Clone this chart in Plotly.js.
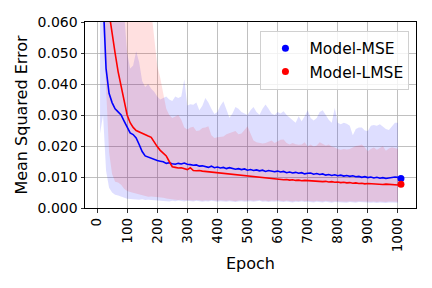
<!DOCTYPE html>
<html>
<head>
<meta charset="utf-8">
<script src="https://cdn.plot.ly/plotly-3.0.1.min.js"></script>
<style>
html, body { margin: 0; padding: 0; background: #fff; }
#chart { width: 432px; height: 288px; }
</style>
</head>
<body>
<div id="chart"></div>
<script>
// Epochs 10, 20, ..., 1000
const epochs = Array.from({length: 100}, (_, i) => (i + 1) * 10);

const blueMean = [
  0.100, 0.068, 0.045, 0.037, 0.034, 0.032, 0.031, 0.030, 0.028, 0.026,
  0.0242, 0.0237, 0.0226, 0.0205, 0.0182, 0.0168, 0.0164, 0.0160, 0.0156, 0.0153,
  0.0151, 0.0149, 0.0144, 0.0146, 0.0143, 0.0141, 0.0144, 0.0142, 0.0145, 0.0141,
  0.0140, 0.0138, 0.0139, 0.0135, 0.0136, 0.0134, 0.0131, 0.0135, 0.0130, 0.0132,
  0.0129, 0.0131, 0.0127, 0.0130, 0.0128, 0.0125, 0.0127, 0.0124, 0.0126, 0.0122,
  0.0124, 0.0121, 0.0123, 0.0120, 0.0122, 0.0118, 0.0121, 0.0119, 0.0117, 0.0119,
  0.0116, 0.0118, 0.0114, 0.0116, 0.0113, 0.0115, 0.0112, 0.0114, 0.0110, 0.0112,
  0.0113, 0.0109, 0.0111, 0.0108, 0.0110, 0.0106, 0.0108, 0.0105, 0.0107, 0.0104,
  0.0106, 0.0103, 0.0105, 0.0102, 0.0104, 0.0101, 0.0102, 0.0099, 0.0101, 0.0098,
  0.0100, 0.0097, 0.0099, 0.0096, 0.0098, 0.0095, 0.0097, 0.0099, 0.0100, 0.0099
];
const blueUpper = [
  0.090, 0.085, 0.080, 0.075, 0.072, 0.070, 0.068, 0.066, 0.063, 0.050,
  0.045, 0.046, 0.0506, 0.047, 0.041, 0.039, 0.040, 0.0385, 0.0375, 0.036,
  0.035, 0.0355, 0.036, 0.035, 0.0345, 0.036, 0.0355, 0.036, 0.0415, 0.0331,
  0.0335, 0.0333, 0.034, 0.0315, 0.033, 0.0355, 0.034, 0.032, 0.0303, 0.031,
  0.033, 0.0344, 0.032, 0.0291, 0.0305, 0.0326, 0.032, 0.031, 0.0305, 0.030,
  0.0315, 0.0326, 0.031, 0.0301, 0.032, 0.0334, 0.032, 0.0305, 0.030, 0.031,
  0.0305, 0.0312, 0.030, 0.0291, 0.0285, 0.0275, 0.0296, 0.028, 0.0296, 0.0315,
  0.029, 0.0282, 0.029, 0.031, 0.0315, 0.030, 0.0285, 0.0275, 0.0323, 0.0275,
  0.027, 0.0275, 0.0272, 0.0265, 0.0235, 0.0255, 0.026, 0.026, 0.025, 0.0248,
  0.0265, 0.0268, 0.0265, 0.027, 0.0262, 0.0255, 0.0252, 0.0262, 0.0275, 0.0275
];
const blueLower = [
  0.024, 0.030, 0.012, 0.0065, 0.005, 0.0043, 0.004, 0.0036, 0.0032, 0.0030,
  0.0029, 0.0028, 0.0029, 0.0027, 0.0028, 0.0026, 0.0027, 0.0027, 0.0025, 0.0024,
  0.0023, 0.0024, 0.0022, 0.0021, 0.0023, 0.0022, 0.0024, 0.0022, 0.0021, 0.0023,
  0.0022, 0.0021, 0.0023, 0.0022, 0.0020, 0.0022, 0.0021, 0.0023, 0.0022, 0.0020,
  0.0022, 0.0021, 0.0020, 0.0022, 0.0021, 0.0019, 0.0021, 0.0022, 0.0020, 0.0021,
  0.0022, 0.0020, 0.0021, 0.0023, 0.0020, 0.0021, 0.0019, 0.0021, 0.0020, 0.0022,
  0.0020, 0.0019, 0.0021, 0.0020, 0.0018, 0.0020, 0.0019, 0.0021, 0.0019, 0.0020,
  0.0019, 0.0018, 0.0020, 0.0019, 0.0018, 0.0020, 0.0019, 0.0017, 0.0019, 0.0018,
  0.0019, 0.0018, 0.0017, 0.0019, 0.0018, 0.0017, 0.0019, 0.0018, 0.0017, 0.0018,
  0.0017, 0.0018, 0.0016, 0.0018, 0.0017, 0.0016, 0.0018, 0.0017, 0.0016, 0.0017
];

const redMean = [
  0.120, 0.090, 0.075, 0.063, 0.056, 0.050, 0.044, 0.039, 0.034, 0.0300,
  0.0275, 0.0260, 0.0250, 0.0245, 0.0241, 0.0237, 0.0232, 0.0228, 0.0212, 0.0198,
  0.0186, 0.0176, 0.0168, 0.0150, 0.0133, 0.0131, 0.0129, 0.0130, 0.0126, 0.0124,
  0.0130, 0.0121, 0.0120, 0.0121, 0.0119, 0.0118, 0.0117, 0.0116, 0.0115, 0.0114,
  0.0113, 0.0112, 0.0111, 0.0110, 0.0109, 0.0108, 0.0107, 0.0106, 0.0104, 0.0103,
  0.0101, 0.0100, 0.0099, 0.0098, 0.0097, 0.0096, 0.0095, 0.0094, 0.0093, 0.0093,
  0.0092, 0.0091, 0.0092, 0.0090, 0.0091, 0.0089, 0.0090, 0.0088, 0.0089, 0.0088,
  0.0087, 0.0088, 0.0087, 0.0086, 0.0085, 0.0086, 0.0084, 0.0085, 0.0083, 0.0084,
  0.0082, 0.0083, 0.0081, 0.0082, 0.0080, 0.0081, 0.0079, 0.0080, 0.0078, 0.0079,
  0.0078, 0.0077, 0.0078, 0.0077, 0.0076, 0.0077, 0.0076, 0.0075, 0.0076, 0.0074
];
const redUpper = [
  0.160, 0.140, 0.120, 0.110, 0.100, 0.095, 0.090, 0.085, 0.080, 0.078,
  0.075, 0.072, 0.070, 0.068, 0.067, 0.066, 0.065, 0.064, 0.055, 0.046,
  0.042, 0.037, 0.032, 0.030, 0.029, 0.0295, 0.030, 0.0285, 0.026, 0.0253,
  0.026, 0.0262, 0.0248, 0.025, 0.0258, 0.026, 0.0264, 0.0235, 0.0226, 0.0228,
  0.023, 0.0231, 0.0238, 0.0242, 0.0246, 0.0248, 0.0238, 0.024, 0.0252, 0.0264,
  0.024, 0.0218, 0.0212, 0.021, 0.0208, 0.021, 0.0215, 0.0218, 0.021, 0.0215,
  0.022, 0.0221, 0.021, 0.0205, 0.021, 0.0206, 0.0204, 0.0205, 0.0212, 0.0199,
  0.0205, 0.0198, 0.0202, 0.0212, 0.0206, 0.0202, 0.0205, 0.0198, 0.0195, 0.019,
  0.0188, 0.019, 0.0189, 0.019, 0.0195, 0.020, 0.0202, 0.0205, 0.0195, 0.0183,
  0.019, 0.0195, 0.0188, 0.0193, 0.0199, 0.0185, 0.0192, 0.0196, 0.0194, 0.019
];
const redLower = [
  0.080, 0.060, 0.035, 0.018, 0.011, 0.0085, 0.0082, 0.0075, 0.0062, 0.0055,
  0.0052, 0.0049, 0.0047, 0.0043, 0.0040, 0.0037, 0.0036, 0.0037, 0.0036, 0.0037,
  0.0035, 0.0033, 0.0031, 0.0029, 0.0028, 0.0027, 0.0026, 0.0027, 0.0025, 0.0026,
  0.0025, 0.0024, 0.0026, 0.0025, 0.0023, 0.0025, 0.0024, 0.0026, 0.0025, 0.0023,
  0.0025, 0.0024, 0.0023, 0.0025, 0.0024, 0.0022, 0.0024, 0.0025, 0.0023, 0.0024,
  0.0025, 0.0023, 0.0024, 0.0026, 0.0023, 0.0024, 0.0022, 0.0024, 0.0023, 0.0025,
  0.0023, 0.0022, 0.0024, 0.0023, 0.0021, 0.0023, 0.0022, 0.0024, 0.0022, 0.0023,
  0.0022, 0.0021, 0.0023, 0.0022, 0.0021, 0.0023, 0.0022, 0.0020, 0.0022, 0.0021,
  0.0022, 0.0021, 0.0020, 0.0022, 0.0021, 0.0020, 0.0022, 0.0021, 0.0020, 0.0021,
  0.0020, 0.0021, 0.0019, 0.0021, 0.0020, 0.0019, 0.0021, 0.0020, 0.0019, 0.0020
];

// Final evaluation points shown as dots (legend entries)
const finalEpoch = [1010];
const blueFinal = [0.0095];
const redFinal = [0.0077];

const seriesNames = ['Model-MSE', 'Model-LMSE'];
const xTicks = [0, 100, 200, 300, 400, 500, 600, 700, 800, 900, 1000];
const yTicks = [0, 0.01, 0.02, 0.03, 0.04, 0.05, 0.06];

const BLUE = 'rgb(0,0,255)';
const RED = 'rgb(255,0,0)';

const traces = [
  {x: epochs, y: blueUpper, mode: 'lines', line: {width: 0, color: BLUE}, showlegend: false, hoverinfo: 'skip'},
  {x: epochs, y: blueLower, mode: 'lines', line: {width: 0, color: BLUE}, fill: 'tonexty', fillcolor: 'rgba(0,0,255,0.13)', showlegend: false, hoverinfo: 'skip'},
  {x: epochs, y: redUpper, mode: 'lines', line: {width: 0, color: RED}, showlegend: false, hoverinfo: 'skip'},
  {x: epochs, y: redLower, mode: 'lines', line: {width: 0, color: RED}, fill: 'tonexty', fillcolor: 'rgba(255,0,0,0.12)', showlegend: false, hoverinfo: 'skip'},
  {x: epochs, y: blueMean, mode: 'lines', line: {width: 1.6, color: BLUE}, showlegend: false},
  {x: epochs, y: redMean, mode: 'lines', line: {width: 1.6, color: RED}, showlegend: false},
  {x: finalEpoch, y: blueFinal, mode: 'markers', name: seriesNames[0], marker: {size: 7, color: BLUE}},
  {x: finalEpoch, y: redFinal, mode: 'markers', name: seriesNames[1], marker: {size: 7, color: RED}}
];

const FONT = 'DejaVu Sans, sans-serif';

const layout = {
  width: 432, height: 288,
  margin: {l: 85, r: 16, t: 22, b: 80, pad: 0},
  paper_bgcolor: '#fff', plot_bgcolor: '#fff',
  font: {family: FONT, color: '#000', size: 14},
  showlegend: true,
  legend: {
    x: 0.530, y: 0.953, xanchor: 'left', yanchor: 'top',
    traceorder: 'normal',
    bgcolor: 'rgba(255,255,255,0.8)', bordercolor: '#d0d0d0', borderwidth: 1,
    font: {family: FONT, size: 15.5, color: '#000'},
    itemwidth: 38, tracegroupgap: 0
  },
  xaxis: {
    range: [-40, 1060], tickvals: xTicks, ticktext: xTicks.map(String),
    tickangle: -90, tickfont: {size: 13.5, family: FONT},
    ticks: 'outside', ticklen: 3.5, tickwidth: 0.8, tickcolor: '#000',
    showgrid: true, gridcolor: '#b0b0b0', gridwidth: 0.8,
    showline: true, linecolor: '#000', linewidth: 1, mirror: true,
    zeroline: false,
    title: {text: 'Epoch', font: {size: 16, family: FONT}, standoff: 6},
    automargin: false
  },
  yaxis: {
    range: [0, 0.06], tickvals: yTicks, ticktext: yTicks.map(v => v.toFixed(3)),
    tickfont: {size: 14, family: FONT},
    ticks: 'outside', ticklen: 3.5, tickwidth: 0.8, tickcolor: '#000',
    showgrid: true, gridcolor: '#b0b0b0', gridwidth: 0.8,
    showline: true, linecolor: '#000', linewidth: 1, mirror: true,
    zeroline: false,
    title: {text: 'Mean Squared Error', font: {size: 16, family: FONT}, standoff: 6},
    automargin: false
  }
};

Plotly.newPlot('chart', traces, layout, {displayModeBar: false, staticPlot: true});
</script>
</body>
</html>
